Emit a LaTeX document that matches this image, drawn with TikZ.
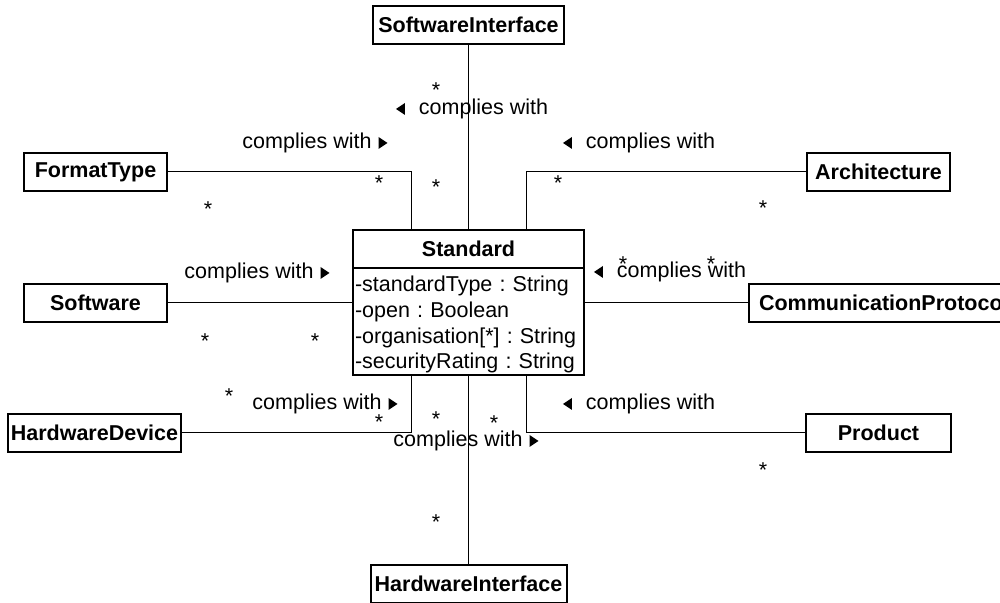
\documentclass[tikz,border=0pt]{standalone}
\usepackage{fontspec}
\setmainfont{Liberation Sans}
\usetikzlibrary{calc, positioning}
\tikzset{
    classnode/.style = {draw, rectangle, line width=1pt, inner xsep=1pt, inner ysep=0pt, 
      minimum height=19pt, font=\fontsize{10.75}{12.8}\selectfont\bfseries},
    attrnode/.style = {draw, rectangle, line width=1pt, inner xsep=1pt, inner ysep=0pt, outer sep=0pt, 
      align=left, font=\fontsize{10.75}{12.9}\selectfont},
    labelnode/.style = {draw=none, fill=none, inner sep=0pt, font=\fontsize{10.75}{12.8}\selectfont},
    multnode/.style = {draw=none, fill=none, inner sep=0pt, yshift=-2.5pt, font=\fontsize{10.75}{12.8}\selectfont},
    connect/.style = {black, line width=0.5pt}
}
\newcommand{\rtri}{\tikz[baseline=0pt]\fill (0pt,-0.2pt) -- (0pt,5.8pt) -- (4.5pt,2.8pt) -- cycle;}
\newcommand{\ltri}{\tikz[baseline=0pt]\fill (4.5pt,-0.2pt) -- (4.5pt,5.8pt) -- (0pt,2.8pt) -- cycle;}
\newcommand{\rcomp}{complies with\hspace{3.5pt}\rtri}
\newcommand{\lcomp}{\ltri\hspace{7pt}complies with}
\frenchspacing

\begin{document}
\begin{tikzpicture}[x=0.5pt, y=-0.5pt]
    \useasboundingbox (0,0) rectangle (1000,603);

    % the standard class
    \node [name=stdhead, classnode, outer sep=0pt, minimum width=115.5pt] at (468.5,249) {Standard};
    \node [name=stdattr, attrnode, minimum width=115.5pt, minimum height=53.5pt, text width=113.5pt, 
        below=0pt of stdhead] {\rule{0pt}{11pt}-standardType : String\\-open : Boolean\\-organisation[*] : String\\-securityRating : String};

    % classes round it
    \node [name=si, classnode, minimum width=95.5pt] at (468.5,25) {SoftwareInterface};
    \node [name=ft, classnode, minimum width=71.5pt] at (95.5,172) {FormatType};
    \node [name=arch, classnode, minimum width=71.5pt] at (878.5,172) {Architecture};
    \node [name=sw, classnode, minimum width=71.5pt] at (95.5,303) {Software};
    \node [name=cp, classnode, anchor=west, inner xsep=5pt] at (748,303) {CommunicationProtocol};
    \node [name=hd, classnode, minimum width=86.5pt] at (94.5,433) {HardwareDevice};
    \node [name=prod, classnode, minimum width=72.5pt] at (878.5,433) {Product};
    \node [name=hi, classnode, minimum width=98pt] at (468.5,584) {HardwareInterface};

    % associations
    \draw [connect] (si.south) -- (stdhead.north);
    \draw [connect] (ft.east) -| ($(stdhead.north west)!0.255!(stdhead.north east)$);
    \draw [connect] (arch.west) -| ($(stdhead.north west)!0.75!(stdhead.north east)$);
    \draw [connect] (sw.east) -- (sw.east -| stdattr.west);
    \draw [connect] (cp.west) -- (cp.west -| stdattr.east);
    \draw [connect] (hd.east) -| ($(stdattr.south west)!0.255!(stdattr.south east)$);
    \draw [connect] (prod.west) -| ($(stdattr.south west)!0.75!(stdattr.south east)$);
    \draw [connect] (hi.north) -- (stdattr.south);

    % association names
    \node [name=lsi, labelnode] at (472,109) {\lcomp};
    \node [name=lft, labelnode] at (315,143) {\rcomp};
    \node [name=larch, labelnode] at (639,143) {\lcomp};
    \node [name=lsw, labelnode] at (257,273) {\rcomp};
    \node [name=lcp, labelnode] at (670,272) {\lcomp};
    \node [name=lhd, labelnode] at (325,404) {\rcomp};
    \node [name=lprod, labelnode] at (639,404) {\lcomp};
    \node [name=lhi, labelnode] at (466,441) {\rcomp};

    % multiplicities
    \node [name=msi1, multnode] at (436,85) {*};
    \node [name=msi2, multnode] at (436,182) {*};
    \node [name=mft1, multnode] at (208,204) {*};
    \node [name=mft2, multnode] at (379,178) {*};
    \node [name=march1, multnode] at (763,203) {*};
    \node [name=march2, multnode] at (558,178) {*};
    \node [name=msw1, multnode] at (205,336) {*};
    \node [name=msw2, multnode] at (315,336) {*};
    \node [name=mcp1, multnode] at (711,259) {*};
    \node [name=mcp2, multnode] at (623,259) {*};
    \node [name=mhd1, multnode] at (229,391) {*};
    \node [name=mhd2, multnode] at (379,417) {*};
    \node [name=mhi1, multnode] at (436,517) {*};
    \node [name=mhi2, multnode] at (436,414) {*};
    \node [name=mprod1, multnode] at (763,465) {*};
    \node [name=mprod2, multnode] at (494,418) {*};
\end{tikzpicture}
\end{document}
